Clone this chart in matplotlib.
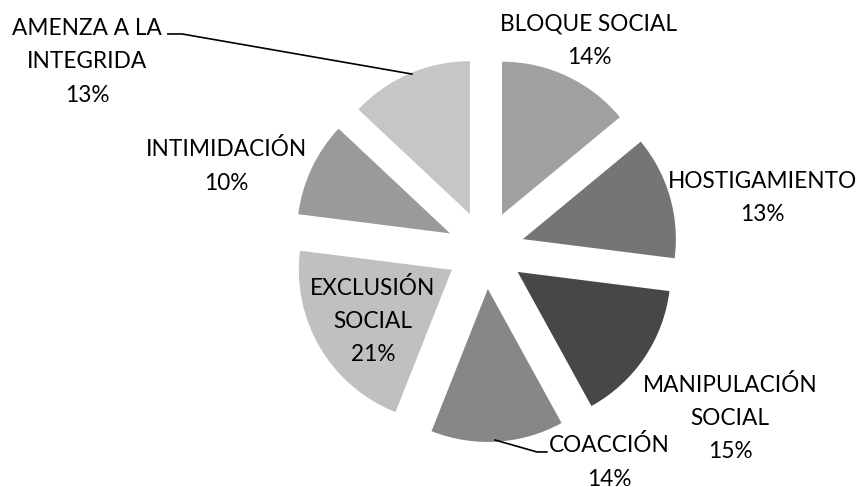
import matplotlib
matplotlib.use("Agg")
import matplotlib.pyplot as plt

categories = ["BLOQUE SOCIAL", "HOSTIGAMIENTO", "MANIPULACIÓN\nSOCIAL", "COACCIÓN",
              "EXCLUSIÓN\nSOCIAL", "INTIMIDACIÓN", "AMENZA A LA\nINTEGRIDA"]
values = [14, 13, 15, 14, 21, 10, 13]
colors = ["#a0a0a0", "#757575", "#474747", "#878787", "#c0c0c0", "#9a9a9a", "#c6c6c6"]

# label block centres (data units, pie radius = 1)
label_pos = [(0.677, 1.366), (1.811, 0.34), (1.599, -1.098), (0.807, -1.386),
             (-0.735, -0.464), (-1.692, 0.549), (-2.604, 1.229)]

plt.rcParams['font.family'] = ['Lato', 'DejaVu Sans']

fig = plt.figure(figsize=(8.61, 4.87), dpi=100)
ax = fig.add_axes([0, 0, 1, 1])
ax.pie(values, colors=colors, startangle=90, counterclock=False,
       explode=[0.255] * len(values), radius=1,
       wedgeprops=dict(linewidth=0))
ax.set_aspect('auto')
ax.set_xlim(-485.4 / 153, (861 - 485.4) / 153)
ax.set_ylim(-(487 - 250) / 153, 250 / 153)
ax.axis('off')

for cat, v, (x, y) in zip(categories, values, label_pos):
    ax.text(x, y, f"{cat}\n{v}%", ha='center', va='center', multialignment='center',
            fontsize=16.3, color='#000000', linespacing=1.72)

# leader lines
ax.plot([-2.075, -1.983, -0.48], [1.412, 1.412, 1.15], color='black', lw=1.2)
ax.plot([0.063, 0.337, 0.402], [-1.242, -1.320, -1.320], color='black', lw=1.2)

fig.savefig("out.png", dpi=100)
